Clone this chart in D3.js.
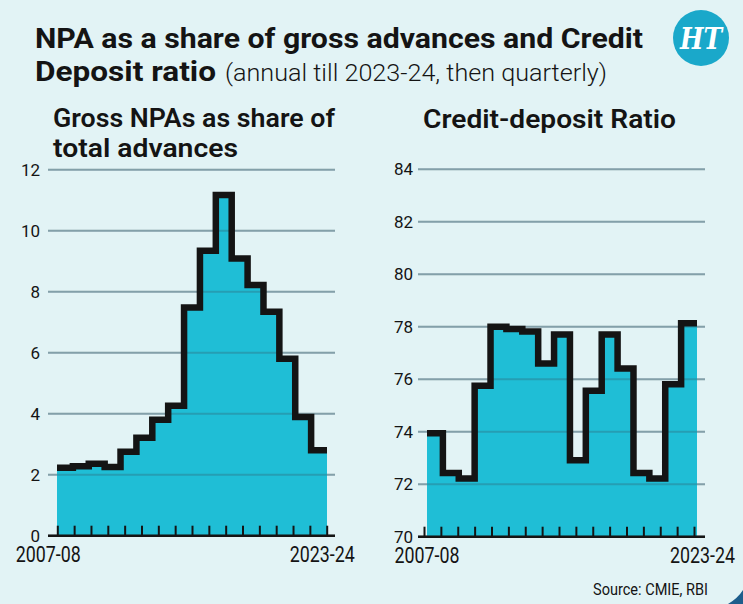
<!DOCTYPE html>
<html><head><meta charset="utf-8">
<script src="https://cdn.jsdelivr.net/npm/d3@7"></script>
<style>
html,body{margin:0;padding:0;background:#e2f3f5;}
svg{display:block;}
text{font-family:Roboto,"Noto Sans",sans-serif;}
</style></head><body>
<svg id="chart" width="743" height="604"></svg>
<script>
// ---- data ----
const years = ["2007-08","2008-09","2009-10","2010-11","2011-12","2012-13","2013-14","2014-15",
  "2015-16","2016-17","2017-18","2018-19","2019-20","2020-21","2021-22","2022-23","2023-24"];
const npaValues = [2.23, 2.28, 2.36, 2.25, 2.75, 3.21, 3.80, 4.26, 7.48, 9.34, 11.17, 9.09, 8.22, 7.34, 5.80, 3.89, 2.80];
const cdValues = [73.94, 72.43, 72.22, 75.75, 78.0, 77.91, 77.82, 76.6, 77.70, 72.91, 75.56, 77.70, 76.41, 72.43, 72.22, 75.81, 78.13];
const npaTicks = [0, 2, 4, 6, 8, 10, 12];
const cdTicks = [70, 72, 74, 76, 78, 80, 82, 84];
const xLabels = ["2007-08", "2023-24"];

const BG = "#e2f3f5", FILL = "#1fbed6", INK = "#141414";
const svg = d3.select("#chart");
svg.append("rect").attr("width", 743).attr("height", 604).attr("fill", BG);

function txt(s, x, y, size, weight, width, anchor) {
  const t = svg.append("text").attr("x", x).attr("y", y)
    .attr("font-size", size).attr("font-weight", weight).attr("fill", INK)
    .attr("text-anchor", anchor || "start").text(s);
  if (width) t.attr("textLength", width).attr("lengthAdjust", "spacingAndGlyphs");
  return t;
}

// titles
txt("NPA as a share of gross advances and Credit", 35, 48, 28, 700, 608);
txt("Deposit ratio", 35, 81, 28, 700, 181);
txt("(annual till 2023-24, then quarterly)", 225, 81, 24, 300, 382);
txt("Gross NPAs as share of", 53, 127, 25, 600, 282);
txt("total advances", 53, 157, 25, 600, 185);
txt("Credit-deposit Ratio", 423, 128, 25, 600, 253);
txt("Source: CMIE, RBI", 708, 595, 17, 400, 115, "end");

// logo
svg.append("circle").attr("cx", 701).attr("cy", 38).attr("r", 28).attr("fill", "#1aa8ca");
svg.append("text").attr("x", 701).attr("y", 49).attr("text-anchor", "middle")
  .attr("font-family", "'DejaVu Serif', serif").attr("font-weight", 700).attr("font-style", "italic")
  .attr("font-size", 30).attr("fill", "#fff").attr("textLength", 42).attr("lengthAdjust", "spacingAndGlyphs")
  .style("font-family", "'DejaVu Serif', serif").text("HT");

// corner decoration
svg.append("path").attr("d", "M728,604 Q738,598 743,590 L743,604 Z").attr("fill", "#1d5d8c");

function panel(cfg) {
  const g = svg.append("g");
  const xStep = d3.scaleLinear().domain([0, cfg.values.length]).range(cfg.stepRange);
  const xTick = d3.scalePoint().domain(years).range(cfg.tickRange);
  const y = d3.scaleLinear().domain(cfg.domain).range(cfg.yRange);
  const pts = cfg.values.map((v, i) => [i, v]);
  pts.push([cfg.values.length, cfg.values[cfg.values.length - 1]]);

  // base grid
  g.selectAll("line.grid").data(cfg.ticks).join("line").attr("class", "grid")
    .attr("x1", cfg.grid[0]).attr("x2", cfg.grid[1])
    .attr("y1", d => y(d)).attr("y2", d => y(d))
    .attr("stroke", "#aac2c8").attr("stroke-width", 2);

  const area = d3.area().curve(d3.curveStepAfter)
    .x(d => xStep(d[0])).y0(y(cfg.domain[0])).y1(d => y(d[1]));
  g.append("path").datum(pts).attr("d", area).attr("fill", FILL);

  // grid through fill
  g.selectAll("line.grid2").data(cfg.ticks).join("line").attr("class", "grid2")
    .attr("x1", cfg.grid[0]).attr("x2", cfg.grid[1])
    .attr("y1", d => y(d)).attr("y2", d => y(d))
    .attr("stroke", "rgba(50,90,105,0.32)").attr("stroke-width", 2);

  const line = d3.line().curve(d3.curveStepAfter).x(d => xStep(d[0])).y(d => y(d[1]));
  g.append("path").datum(pts).attr("d", line).attr("fill", "none")
    .attr("stroke", INK).attr("stroke-width", 6.5).attr("stroke-linejoin", "miter")
    .attr("stroke-linecap", "butt");

  // y axis labels
  const ya = g.append("g").attr("transform", `translate(${cfg.grid[0]},0)`)
    .call(d3.axisLeft(y).tickValues(cfg.ticks).tickSize(0).tickPadding(cfg.pad));
  ya.select(".domain").remove();
  ya.selectAll("text").attr("font-size", 17).attr("fill", INK).attr("font-family", "Roboto");

  // x axis
  const y0 = y(cfg.domain[0]);
  const xa = g.append("g").attr("transform", `translate(0,${y0})`)
    .call(d3.axisBottom(xTick).tickSizeInner(-10).tickSizeOuter(0)
      .tickFormat(d => xLabels.includes(d) ? d : ""));
  xa.select(".domain").remove();
  xa.selectAll(".tick line").attr("stroke", INK).attr("stroke-width", 2);
  xa.selectAll(".tick text").attr("y", 26).attr("dy", 0).attr("font-size", 22)
    .attr("fill", INK).attr("font-family", "Roboto")
    .attr("dx", d => d === xLabels[0] ? cfg.dx[0] : cfg.dx[1])
    .each(function(d) { if (xLabels.includes(d)) d3.select(this).attr("textLength", 65).attr("lengthAdjust", "spacingAndGlyphs"); });
  g.append("line").attr("x1", cfg.grid[0]).attr("x2", cfg.grid[1])
    .attr("y1", y0).attr("y2", y0).attr("stroke", INK).attr("stroke-width", 2.5);
}

panel({ values: npaValues, ticks: npaTicks, domain: [0, 12], yRange: [535.7, 169.7],
  stepRange: [57, 327], tickRange: [57.3, 326.7], grid: [48, 335], pad: 8, dx: [-9.5, -5] });
panel({ values: cdValues, ticks: cdTicks, domain: [70, 84], yRange: [536.7, 169.2],
  stepRange: [427, 697], tickRange: [424, 694], grid: [418, 705], pad: 5, dx: [2.5, 8] });
</script>
</body></html>
